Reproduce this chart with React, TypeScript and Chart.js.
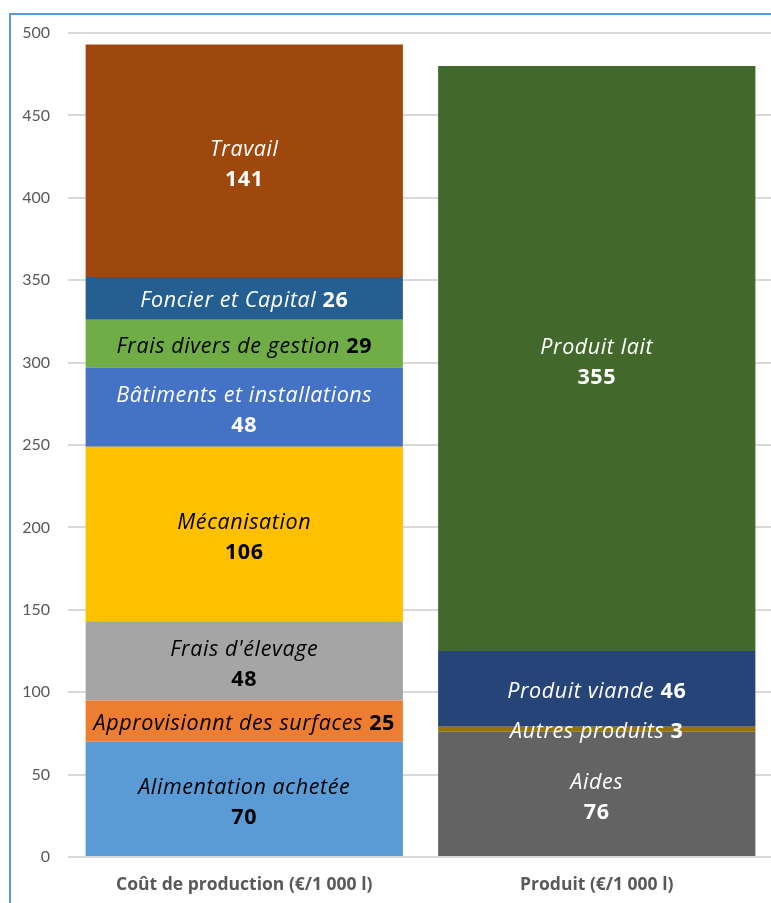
import React, { useEffect, useRef } from "react";
import { Chart, registerables } from "chart.js";

Chart.register(...registerables);

const categories = ["Coût de production (€/1 000 l)", "Produit (€/1 000 l)"];

const costNames = [
  "Alimentation achetée",
  "Approvisionnt des surfaces",
  "Frais d'élevage",
  "Mécanisation",
  "Bâtiments et installations",
  "Frais divers de gestion",
  "Foncier et Capital",
  "Travail",
];
const costValues = [70, 25, 48, 106, 48, 29, 26, 141];
const costColors = ["#5B9BD5", "#ED7D31", "#A5A5A5", "#FFC000", "#4472C4", "#70AD47", "#255E91", "#9E480E"];
const costTextColors = ["#000000", "#000000", "#000000", "#000000", "#FFFFFF", "#000000", "#FFFFFF", "#FFFFFF"];
const costTwoLines = [true, false, true, true, true, false, false, true];

const prodNames = ["Aides", "Autres produits", "Produit viande", "Produit lait"];
const prodValues = [76, 3, 46, 355];
const prodColors = ["#636363", "#997300", "#264478", "#43682B"];
const prodTextColors = ["#FFFFFF", "#FFFFFF", "#FFFFFF", "#FFFFFF"];
const prodTwoLines = [true, false, false, true];

const yMin = 0;
const yMax = 500;
const yStep = 50;

const FONT = "'Open Sans', Lato, sans-serif";
const TICK_FONT = "Lato, 'Open Sans', sans-serif";

export default function App() {
  const ref = useRef<HTMLCanvasElement | null>(null);

  useEffect(() => {
    if (!ref.current) return;
    const datasets: any[] = [];
    costValues.forEach((v, i) => {
      datasets.push({
        label: costNames[i],
        data: [v, null],
        backgroundColor: costColors[i],
        stack: "s",
        barPercentage: 0.9,
        categoryPercentage: 1,
        _text: costTextColors[i],
        _two: costTwoLines[i],
      });
    });
    prodValues.forEach((v, i) => {
      datasets.push({
        label: prodNames[i],
        data: [null, v],
        backgroundColor: prodColors[i],
        stack: "s",
        barPercentage: 0.9,
        categoryPercentage: 1,
        _text: prodTextColors[i],
        _two: prodTwoLines[i],
      });
    });

    const labelPlugin = {
      id: "segLabels",
      afterDatasetsDraw(chart: any) {
        const ctx = chart.ctx;
        chart.data.datasets.forEach((ds: any, di: number) => {
          const meta = chart.getDatasetMeta(di);
          meta.data.forEach((el: any, idx: number) => {
            const v = ds.data[idx];
            if (v === null || v === undefined) return;
            const cx = el.x;
            const cy = (el.y + el.base) / 2;
            const italic = `italic 400 21.5px ${FONT}`;
            const bold = `700 21.5px ${FONT}`;
            ctx.save();
            (ctx as any).letterSpacing = "0.6px";
            ctx.fillStyle = ds._text;
            ctx.textBaseline = "middle";
            if (ds._two) {
              ctx.textAlign = "center";
              ctx.font = italic;
              ctx.fillText(ds.label, cx, cy - 11);
              ctx.font = bold;
              ctx.fillText(String(v), cx, cy + 19);
            } else {
              ctx.font = italic;
              const w1 = ctx.measureText(ds.label + " ").width;
              ctx.font = bold;
              const w2 = ctx.measureText(String(v)).width;
              const start = cx - (w1 + w2) / 2;
              ctx.textAlign = "left";
              ctx.font = italic;
              ctx.fillText(ds.label + " ", start, cy + 3);
              ctx.font = bold;
              ctx.fillText(String(v), start + w1, cy + 3);
            }
            ctx.restore();
          });
        });
      },
    };

    const chart = new Chart(ref.current, {
      type: "bar",
      data: { labels: categories, datasets },
      options: {
        animation: false,
        responsive: false,
        layout: { padding: { top: 33, right: 17, left: 0, bottom: 0 } },
        plugins: { legend: { display: false }, tooltip: { enabled: false } },
        scales: {
          x: {
            stacked: true,
            grid: { display: false, drawTicks: false },
            border: { display: false },
            ticks: { color: "#595959", font: { family: FONT, size: 17.5, weight: "bold" }, padding: 18 },
            afterFit: (s: any) => { s.height = 46; },
          },
          y: {
            stacked: true,
            min: yMin,
            max: yMax,
            ticks: { stepSize: yStep, color: "#595959", font: { family: TICK_FONT, size: 16 }, padding: 18 },
            grid: { color: "#D9D9D9", lineWidth: 2, drawTicks: false },
            border: { display: false },
            afterFit: (s: any) => { s.width = 68; },
          },
        },
      },
      plugins: [labelPlugin],
    });
    return () => chart.destroy();
  }, []);

  return (
    <div style={{ position: "fixed", left: 0, top: 0, width: 771, height: 903, overflow: "hidden", background: "#fff" }}>
      <div style={{ position: "absolute", left: 9, top: 13, width: 900, height: 1000, border: "2px solid #5B9BD5" }} />
      <canvas ref={ref} width={790} height={903} style={{ position: "absolute", left: 0, top: 0 }} />
    </div>
  );
}
